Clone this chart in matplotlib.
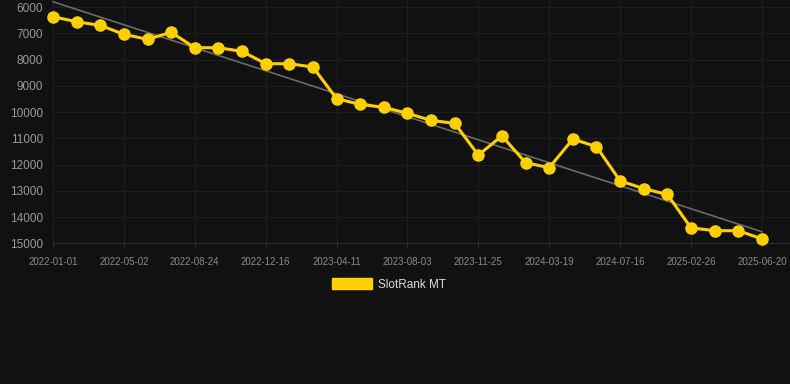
import matplotlib
matplotlib.use("Agg")
import matplotlib.pyplot as plt
from matplotlib.patches import Patch
import numpy as np

plt.rcParams['font.family'] = ['Liberation Sans', 'DejaVu Sans']

# data
ranks = [6370, 6560, 6700, 7040, 7230, 6965, 7550, 7550, 7690, 8160, 8160, 8285,
         9490, 9710, 9820, 10050, 10320, 10430, 11640, 10910, 11930, 12120,
         11030, 11320, 12620, 12920, 13140, 14410, 14520, 14520, 14830]
tick_labels = ["2022-01-01", "2022-05-02", "2022-08-24", "2022-12-16", "2023-04-11",
               "2023-08-03", "2023-11-25", "2024-03-19", "2024-07-16", "2025-02-26",
               "2025-06-20"]
trend_values = [5800, 14560]
series_name = "SlotRank MT"
y_ticks = [6000, 7000, 8000, 9000, 10000, 11000, 12000, 13000, 14000, 15000]

BG = "#111111"
YEL = "#FFD000"

fig = plt.figure(figsize=(7.9, 3.84), dpi=100, facecolor=BG)
ax = fig.add_axes([53/790, 1 - 243.3/384, (790-53)/790, 243.3/384])
ax.set_facecolor(BG)

x = np.arange(len(ranks))
ax.plot([x[0], x[-1]], trend_values, color="#6a6a6a", lw=1.2, zorder=2, clip_on=False)
ax.plot(x, ranks, color=YEL, lw=2.2, marker="o", ms=8, mec=YEL, mfc=YEL, zorder=3,
        clip_on=False)

ax.set_xlim(0, 31.19)
ax.set_ylim(15000, 5733)
ax.set_yticks(y_ticks)
ax.set_yticklabels([str(v) for v in y_ticks])
tick_pos = list(range(0, len(ranks), 3))
ax.set_xticks(tick_pos)
ax.set_xticklabels(tick_labels)

ax.grid(True, color="#1f1f1f", lw=0.8, zorder=0)
for s in ["top", "right", "left"]:
    ax.spines[s].set_visible(False)
ax.spines["bottom"].set_color("#303030")
ax.spines["bottom"].set_linewidth(0.8)

ax.tick_params(axis="y", length=0, pad=7, labelsize=8.5, labelcolor="#999999")
ax.tick_params(axis="x", length=3, color="#303030", pad=7, labelsize=7, labelcolor="#8a8a8a")

fig.legend(handles=[Patch(facecolor=YEL, edgecolor=YEL, label=series_name)],
           loc="center", bbox_to_anchor=(389/790, 1 - 284.5/384), frameon=False,
           handlelength=3.4, handleheight=1.0, handletextpad=0.5, fontsize=8.5,
           labelcolor="#dddddd")

fig.savefig("out.png", dpi=100, facecolor=BG)
